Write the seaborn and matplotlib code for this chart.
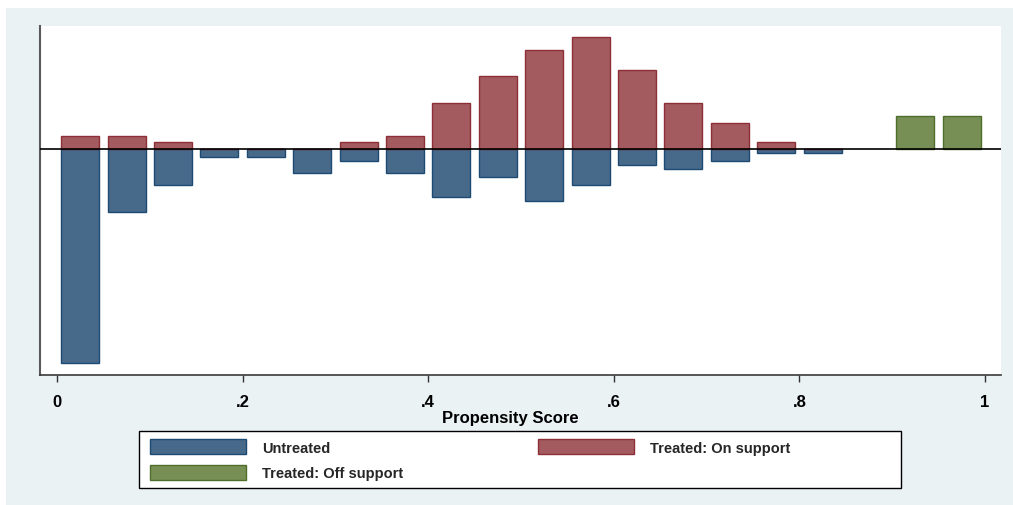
import matplotlib
matplotlib.use("Agg")
import matplotlib.pyplot as plt
from matplotlib.patches import Patch, Rectangle
import seaborn as sns

# Propensity-score bins (bin midpoints, width 0.05)
bin_mid = [0.025, 0.075, 0.125, 0.175, 0.225, 0.275, 0.325, 0.375, 0.425,
           0.475, 0.525, 0.575, 0.625, 0.675, 0.725, 0.775, 0.825]
off_bin_mid = [0.925, 0.975]

# Observations per bin
untreated_n = [54, 16, 9, 2, 2, 6, 3, 6, 12, 7, 13, 9, 4, 5, 3, 1, 1]
treated_on_n = [2, 2, 1, 0, 0, 0, 1, 2, 7, 11, 15, 17, 12, 7, 4, 1, 0]
treated_off_n = [5, 5]

tick_vals = [0, 0.2, 0.4, 0.6, 0.8, 1]
tick_labels = ["0", ".2", ".4", ".6", ".8", "1"]
legend_labels = ["Untreated", "Treated: Off support", "Treated: On support"]
x_title = "Propensity Score"

# Shares within each group (untreated drawn below zero)
n_untreated = sum(untreated_n)
n_treated = sum(treated_on_n) + sum(treated_off_n)
untreated_share = [-v / n_untreated for v in untreated_n]
treated_on_share = [v / n_treated for v in treated_on_n]
treated_off_share = [v / n_treated for v in treated_off_n]

BLUE, BLUE_EDGE = "#476A8A", "#1C4A73"
RED, RED_EDGE = "#A35B5F", "#8E2F38"
GREEN, GREEN_EDGE = "#778F54", "#4F6D2B"

sns.set_theme(style="white")
plt.rcParams["font.family"] = ["Liberation Sans", "DejaVu Sans"]

W, H = 1013, 506
fig = plt.figure(figsize=(W / 100, H / 100), dpi=100)
fig.patch.set_facecolor("white")
fig.add_artist(Rectangle((6 / W, 0), 1, 1 - 9 / H, transform=fig.transFigure,
                         facecolor="#EAF2F3", edgecolor="none", zorder=-10))

ax = fig.add_axes([40 / W, 1 - 376 / H, 961 / W, 349 / H])
ax.set_facecolor("white")

bar_kw = dict(native_scale=True, width=0.82, saturation=1, errorbar=None,
              linewidth=1.0, orient="x", ax=ax)
sns.barplot(x=bin_mid, y=untreated_share, color=BLUE, edgecolor=BLUE_EDGE, **bar_kw)
sns.barplot(x=bin_mid, y=treated_on_share, color=RED, edgecolor=RED_EDGE, **bar_kw)
sns.barplot(x=off_bin_mid, y=treated_off_share, color=GREEN, edgecolor=GREEN_EDGE, **bar_kw)

ax.axhline(0, color="black", lw=1.2, zorder=5)

ax.set_xlim(-0.0183, 1.0172)
ax.set_ylim(-0.3723, 0.2026)
ax.set_yticks([])
ax.set_ylabel("")

ax.set_xticks(tick_vals)
ax.set_xticklabels(tick_labels, fontsize=12, fontweight="bold", color="black")
ax.tick_params(axis="x", bottom=True, direction="out", length=5, width=1,
               color="#333333", pad=9)

for side in ("top", "right"):
    ax.spines[side].set_visible(False)
ax.spines["left"].set_color("#5a5a5a")
ax.spines["left"].set_linewidth(1.5)
ax.spines["bottom"].set_color("#3a3a3a")
ax.spines["bottom"].set_linewidth(1.2)

ax.set_xlabel(x_title, fontsize=12, fontweight="bold", color="black")
ax.xaxis.set_label_coords((510 - 40) / 961, -(411 - 376) / 349)

# Legend: two columns inside a fixed-size white box
leg_size = 10.5
leg_px = leg_size * 100 / 72
handle_len = 6.6
text_pad = 1.1
fig.add_artist(Rectangle((139 / W, 1 - 489 / H), 762 / W, 57 / H,
                         transform=fig.transFigure, facecolor="white",
                         edgecolor="black", linewidth=1.0, zorder=1))

renderer = fig.canvas.get_renderer()
probe = fig.text(0, 0, legend_labels[1], fontsize=leg_size, fontweight="bold")
col1_text_w = probe.get_window_extent(renderer).width
probe.remove()
col1_end = 150 + (handle_len + text_pad) * leg_px + col1_text_w
col_gap = (538 - col1_end) / leg_px

handles = [Patch(facecolor=BLUE, edgecolor=BLUE_EDGE),
           Patch(facecolor=GREEN, edgecolor=GREEN_EDGE),
           Patch(facecolor=RED, edgecolor=RED_EDGE)]
leg = fig.legend(handles, legend_labels, ncol=2, loc="upper left",
                 bbox_to_anchor=(150 / W, 1 - 440 / H),
                 frameon=False, prop=dict(weight="bold", size=leg_size),
                 handlelength=handle_len, handleheight=1.25, handletextpad=text_pad,
                 columnspacing=col_gap, borderpad=0, labelspacing=0.68,
                 borderaxespad=0)
leg.set_zorder(2)

fig.savefig("out.png", dpi=100, facecolor=fig.get_facecolor())
